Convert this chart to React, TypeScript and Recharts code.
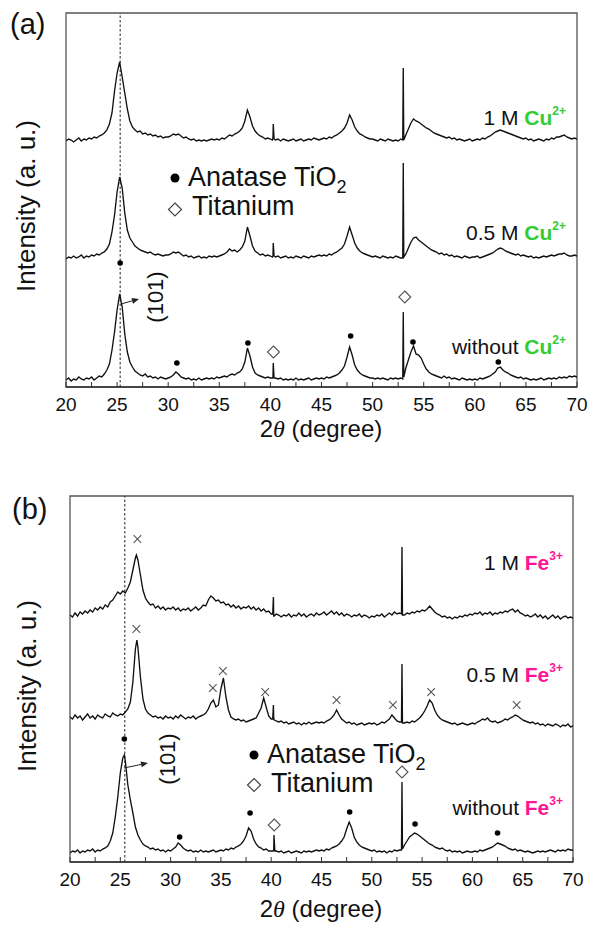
import React from 'react';
import { ComposedChart, Line, XAxis, YAxis, ReferenceLine, ReferenceArea } from 'recharts';

const GRID_START = 20;
const GRID_STEP = 0.25;
const TICKS = [20, 22.5, 25, 27.5, 30, 32.5, 35, 37.5, 40, 42.5, 45, 47.5, 50, 52.5, 55, 57.5, 60, 62.5, 65, 67.5, 70];
const TICK_LABELS = [20, 25, 30, 35, 40, 45, 50, 55, 60, 65, 70];

// (a) Cu series: intensity above each pattern's own background, sampled every 0.25 deg from 20 to 70
const cuNone = [
  2,4,1,3,2,5,3,2,4,3,5,2,4,6,5,8,12,18,32,50,
  72,88,75,48,30,20,15,11,9,7,6,8,5,6,4,5,3,5,4,3,
  4,5,7,10,8,5,4,3,4,2,3,2,4,2,3,4,3,4,3,5,
  4,5,6,5,7,8,7,9,10,13,20,34,26,15,9,7,6,5,4,5,
  4,5,4,3,4,2,3,2,3,2,4,2,3,2,3,4,2,3,4,3,
  4,3,5,4,5,6,7,9,12,16,25,35,27,17,12,9,7,6,5,4,
  4,3,4,3,4,3,2,4,3,4,3,4,70,14,22,30,36,28,27,24,
  18,13,10,8,7,6,5,4,6,4,5,3,4,3,2,4,3,2,3,2,
  3,2,4,3,4,5,6,8,10,14,15,12,10,9,7,6,5,4,5,3,
  4,3,2,3,2,3,4,2,3,4,3,4,3,5,4,5,4,6,5,6,
  5,
];
const cuHalf = [
  1,3,2,4,2,3,5,2,4,3,5,4,6,5,7,8,11,16,28,45,
  68,83,72,47,30,22,18,14,12,10,9,8,7,8,6,5,6,5,4,5,
  5,6,8,7,8,6,4,5,3,4,2,3,4,2,3,2,4,3,4,3,
  4,5,6,8,11,9,10,8,10,13,19,33,24,14,9,7,5,6,4,5,
  4,4,3,4,2,3,4,2,3,2,4,3,2,4,3,2,4,3,4,5,
  4,5,4,6,5,7,8,10,12,16,24,33,25,17,12,9,7,6,5,4,
  3,4,3,2,4,3,2,3,2,4,3,2,97,6,12,18,22,23,20,18,
  16,14,12,10,9,8,6,7,5,6,4,5,3,4,3,2,4,3,2,3,
  3,4,2,3,4,5,6,7,9,11,12,11,9,8,7,6,5,6,4,5,
  4,3,4,2,3,2,3,4,3,4,5,4,5,6,6,7,5,4,4,5,
  4,
];
const cuOne = [
  2,4,3,1,3,5,2,4,3,5,4,6,5,7,8,10,13,19,30,52,
  70,81,66,50,34,22,16,13,11,12,9,10,8,9,7,8,6,7,5,6,
  6,7,9,8,9,7,5,6,4,3,4,2,3,2,3,2,3,4,3,4,
  3,5,4,6,8,7,9,10,12,15,22,33,26,17,12,9,7,6,4,5,
  4,5,3,4,2,4,3,2,3,4,2,3,4,2,3,4,3,5,4,3,
  4,5,4,6,5,7,8,10,12,15,20,28,23,16,12,9,8,6,5,4,
  4,3,2,4,3,2,4,3,2,3,2,4,75,8,14,20,24,22,21,19,
  17,15,14,12,10,9,8,7,6,5,6,4,5,3,4,3,2,3,4,2,
  3,4,3,5,4,6,7,9,11,12,13,12,11,10,9,8,7,6,5,4,
  5,3,4,2,3,4,3,2,4,3,5,4,6,6,7,8,6,5,4,5,
  4,
];
// sharp titanium lines and peak tops between grid points: [2theta, intensity]
const cuNoneExtra = [[40.2, 4], [40.28, 19], [40.36, 4], [52.95, 3], [53.05, 5]];
const cuHalfExtra = [[40.2, 3], [40.28, 17], [40.36, 4], [52.95, 2], [53.05, 3]];
const cuOneExtra = [[40.2, 3], [40.28, 19], [40.36, 4], [52.95, 3], [53.05, 3]];
const cuOffsets = { none: 5, half: 127, one: 244 };

// (b) Fe series
const feNone = [
  2,4,3,5,2,4,3,5,4,6,3,5,4,6,7,9,14,22,38,58,
  82,97,94,70,55,42,28,20,15,11,9,8,6,7,5,6,4,5,3,5,
  4,6,8,12,10,7,5,4,5,3,4,3,5,3,4,3,4,5,3,4,
  5,4,6,5,7,6,8,9,11,14,19,27,24,16,11,8,7,5,6,4,
  4,5,4,3,4,2,3,4,2,3,4,3,2,4,3,4,3,4,5,4,
  5,4,6,5,7,8,9,11,14,18,26,33,27,18,13,10,8,7,6,5,
  4,5,3,4,3,4,2,4,3,5,4,5,73,10,14,18,20,22,21,19,
  17,15,13,11,10,8,7,6,7,5,4,5,3,4,3,4,2,3,4,3,
  3,4,3,5,4,5,6,7,8,10,12,11,10,9,7,6,5,6,4,5,
  4,3,4,3,2,3,4,3,4,3,4,5,4,3,5,4,5,4,6,5,
  5,
];
const feHalf = [
  10,8,12,9,11,7,10,13,9,11,8,12,10,9,13,11,10,14,12,11,
  13,12,15,18,25,45,78,80,50,28,18,14,12,10,11,9,10,8,11,9,
  10,8,11,9,12,10,8,10,9,11,8,10,11,12,14,18,24,27,20,22,
  38,49,30,17,10,8,7,8,6,7,5,6,7,8,9,14,19,29,20,11,
  8,9,6,5,6,4,5,3,4,5,3,4,2,4,3,5,3,4,5,4,
  5,4,6,7,9,12,17,12,8,6,4,5,3,4,2,3,4,2,3,4,
  3,4,2,3,5,4,6,8,12,9,6,5,63,4,5,4,6,5,7,9,
  12,16,21,27,24,17,12,9,7,6,5,4,3,4,2,3,4,3,2,3,
  4,3,5,6,8,7,9,6,5,6,4,5,6,8,7,9,10,12,11,9,
  7,6,5,4,5,3,4,2,3,1,3,2,1,3,2,0,2,1,3,0,
  1,
];
const feOne = [
  5,3,7,4,8,6,9,7,10,8,12,10,13,11,15,13,18,20,24,28,
  26,29,27,32,38,50,62,60,45,30,22,18,15,16,12,14,11,13,10,12,
  11,13,10,12,9,11,10,12,9,11,13,10,12,15,14,20,24,22,19,20,
  17,18,15,16,13,15,12,14,11,13,12,14,11,13,10,12,9,11,8,9,
  6,4,6,5,3,5,4,6,3,5,4,7,4,6,3,5,6,4,7,5,
  6,8,5,7,9,6,8,5,7,4,6,5,3,5,4,6,3,5,4,2,
  4,3,5,4,6,3,5,7,5,8,6,7,73,5,7,6,8,7,9,8,
  10,9,11,14,11,8,6,5,3,4,2,3,1,3,2,4,3,5,4,6,
  5,7,6,8,5,7,6,8,5,7,6,8,7,9,8,10,11,8,10,7,
  6,4,5,3,4,6,3,5,2,4,1,3,5,2,4,1,3,4,2,3,
  2,
];
const feNoneExtra = [[25.4, 100], [40.2, 4], [40.28, 20], [40.36, 4], [52.95, 5], [53.05, 6]];
const feHalfExtra = [[26.65, 87], [40.15, 8], [40.22, 22], [40.3, 7], [52.95, 5], [53.05, 4]];
const feOneExtra = [[26.6, 65], [40.15, 6], [40.22, 23], [40.3, 4], [52.95, 6], [53.05, 5]];
const feOffsets = { none: 7, half: 135, one: 242 };

// phase markers: [2theta, panel intensity]
const cuAnatase = [[25.3, 124], [30.85, 24], [37.8, 44], [47.85, 51], [53.95, 45], [62.3, 25]];
const cuTitanium = [[40.3, 35], [53.15, 90]];
const feAnatase = [[25.4, 123], [30.9, 25], [37.9, 49], [47.8, 50], [54.3, 38], [62.5, 29]];
const feTitanium = [[40.3, 37], [53.0, 90]];
const feOther = [[26.7, 323], [26.6, 233], [34.2, 174], [35.2, 191], [39.4, 170], [46.5, 162], [52.1, 157], [55.9, 170], [64.4, 157]];

const PANEL_A_MAX = 374;
const PANEL_B_MAX = 366;
const REF_A = 25.3;
const REF_B = 25.45;

const FONT = '"Liberation Sans", Arial, Helvetica, sans-serif';
const GREEN = '#33cc33';
const MAGENTA = '#ff1493';

function build(values: number[], extras: number[][], offset: number) {
  const pts = values.map((v, i) => ({ x: GRID_START + GRID_STEP * i, y: v + offset }));
  extras.forEach(([x, v]) => pts.push({ x, y: v + offset }));
  pts.sort((a, b) => a.x - b.x);
  return pts;
}
const toPts = (arr: number[][]) => arr.map(([x, y]) => ({ x, y }));

const Tick = (props: any) => {
  const { x, y, payload } = props;
  const v = payload.value;
  const major = TICK_LABELS.includes(v);
  return (
    <g>
      <line x1={x} x2={x} y1={y} y2={y - 5} stroke="#333" strokeWidth={1} />
      {major && (
        <text x={x} y={y + 24} textAnchor="middle" fontSize={19} fontFamily={FONT} fill="#111">
          {v}
        </text>
      )}
    </g>
  );
};

const dotShape = (p: any) => <circle key={`c${p.index}`} cx={p.cx} cy={p.cy} r={2.8} fill="#000" />;
const diamondShape = (p: any) => {
  const s = 6;
  return (
    <polygon
      key={`d${p.index}`}
      points={`${p.cx},${p.cy - s} ${p.cx + s},${p.cy} ${p.cx},${p.cy + s} ${p.cx - s},${p.cy}`}
      fill="#fff"
      stroke="#555"
      strokeWidth={1.1}
    />
  );
};
const crossShape = (p: any) => {
  const s = 3.8;
  return (
    <g key={`x${p.index}`} stroke="#555" strokeWidth={1.1}>
      <line x1={p.cx - s} y1={p.cy - s} x2={p.cx + s} y2={p.cy + s} />
      <line x1={p.cx - s} y1={p.cy + s} x2={p.cx + s} y2={p.cy - s} />
    </g>
  );
};

type PanelProps = {
  width: number;
  height: number;
  margin: { top: number; right: number; bottom: number; left: number };
  series: { x: number; y: number }[][];
  markers: { data: { x: number; y: number }[]; shape: (p: any) => any }[];
  yMax: number;
  refX: number;
};

const Panel = ({ width, height, margin, series, markers, yMax, refX }: PanelProps) => (
  <ComposedChart width={width} height={height} margin={margin}>
    <XAxis
      dataKey="x"
      type="number"
      domain={[20, 70]}
      ticks={TICKS}
      interval={0}
      allowDataOverflow
      tickLine={false}
      tickSize={0}
      tickMargin={0}
      height={30}
      axisLine={{ stroke: '#333', strokeWidth: 1.5 }}
      tick={<Tick />}
    />
    <YAxis type="number" domain={[0, yMax]} hide allowDataOverflow />
    <ReferenceArea x1={20} x2={70} y1={0} y2={yMax} fill="none" stroke="#555" strokeWidth={1.3} />
    <ReferenceLine x={refX} stroke="#222" strokeDasharray="2.5 2" strokeWidth={1} />
    {series.map((d, i) => (
      <Line
        key={`s${i}`}
        data={d}
        dataKey="y"
        type="linear"
        stroke="#111"
        strokeWidth={1.35}
        dot={false}
        activeDot={false}
        isAnimationActive={false}
      />
    ))}
    {markers.map((m, i) => (
      <Line
        key={`m${i}`}
        data={m.data}
        dataKey="y"
        stroke="none"
        dot={m.shape}
        activeDot={false}
        isAnimationActive={false}
      />
    ))}
  </ComposedChart>
);

const Arrow = ({ x1, y1, x2, y2 }: { x1: number; y1: number; x2: number; y2: number }) => {
  const a = Math.atan2(y2 - y1, x2 - x1);
  const L = 7;
  const W = 3;
  const bx = x2 - L * Math.cos(a);
  const by = y2 - L * Math.sin(a);
  const px = -Math.sin(a) * W;
  const py = Math.cos(a) * W;
  return (
    <g>
      <line x1={x1} y1={y1} x2={bx} y2={by} stroke="#222" strokeWidth={1} />
      <polygon points={`${x2},${y2} ${bx + px},${by + py} ${bx - px},${by - py}`} fill="#222" />
    </g>
  );
};

export default function App() {
  const seriesA = [
    build(cuNone, cuNoneExtra, cuOffsets.none),
    build(cuHalf, cuHalfExtra, cuOffsets.half),
    build(cuOne, cuOneExtra, cuOffsets.one),
  ];
  const seriesB = [
    build(feNone, feNoneExtra, feOffsets.none),
    build(feHalf, feHalfExtra, feOffsets.half),
    build(feOne, feOneExtra, feOffsets.one),
  ];
  const markersA = [
    { data: toPts(cuAnatase), shape: dotShape },
    { data: toPts(cuTitanium), shape: diamondShape },
  ];
  const markersB = [
    { data: toPts(feAnatase), shape: dotShape },
    { data: toPts(feTitanium), shape: diamondShape },
    { data: toPts(feOther), shape: crossShape },
  ];

  const txt = { fontFamily: FONT, fill: '#111' } as const;

  return (
    <div style={{ position: 'absolute', left: 0, top: 0, width: 589, height: 926, background: '#fff' }}>
      <div style={{ position: 'absolute', left: 0, top: 0 }}>
        <Panel
          width={589}
          height={460}
          margin={{ top: 13, right: 12, bottom: 43, left: 66 }}
          series={seriesA}
          markers={markersA}
          yMax={PANEL_A_MAX}
          refX={REF_A}
        />
      </div>
      <div style={{ position: 'absolute', left: 0, top: 460 }}>
        <Panel
          width={589}
          height={466}
          margin={{ top: 36, right: 16, bottom: 34, left: 70 }}
          series={seriesB}
          markers={markersB}
          yMax={PANEL_B_MAX}
          refX={REF_B}
        />
      </div>
      <svg width={589} height={926} style={{ position: 'absolute', left: 0, top: 0, pointerEvents: 'none' }}>
        {/* panel (a) */}
        <text x={10} y={34} fontSize={29} {...txt}>(a)</text>
        <text x={0} y={0} fontSize={26} textAnchor="middle" transform="translate(35,206) rotate(-90)" {...txt}>
          Intensity (a. u.)
        </text>
        <text x={321} y={437} fontSize={24} textAnchor="middle" {...txt}>
          2<tspan fontStyle="italic" fontFamily='"Liberation Serif", "Times New Roman", serif'>θ</tspan> (degree)
        </text>
        <circle cx={175} cy={178} r={4.5} fill="#000" />
        <text x={188} y={186} fontSize={27} {...txt}>
          Anatase TiO<tspan fontSize={18} dy={7}>2</tspan>
        </text>
        <polygon points="175,203 181.5,209.5 175,216 168.5,209.5" fill="#fff" stroke="#444" strokeWidth={1.2} />
        <text x={192} y={215} fontSize={27} {...txt}>Titanium</text>
        <text x={0} y={0} fontSize={22} textAnchor="middle" transform="translate(163,297) rotate(-90)" {...txt}>(101)</text>
        <Arrow x1={121} y1={304} x2={139} y2={299} />
        <text x={566} y={125} fontSize={21} textAnchor="end" {...txt}>
          1 M <tspan fill={GREEN} fontWeight="bold">Cu</tspan>
          <tspan fill={GREEN} fontWeight="bold" fontSize={12} dy={-10}>2+</tspan>
        </text>
        <text x={566} y={240} fontSize={21} textAnchor="end" {...txt}>
          0.5 M <tspan fill={GREEN} fontWeight="bold">Cu</tspan>
          <tspan fill={GREEN} fontWeight="bold" fontSize={12} dy={-10}>2+</tspan>
        </text>
        <text x={566} y={354} fontSize={21} textAnchor="end" {...txt}>
          without <tspan fill={GREEN} fontWeight="bold">Cu</tspan>
          <tspan fill={GREEN} fontWeight="bold" fontSize={12} dy={-10}>2+</tspan>
        </text>

        {/* panel (b) */}
        <text x={12} y={519} fontSize={29} {...txt}>(b)</text>
        <text x={0} y={0} fontSize={26} textAnchor="middle" transform="translate(36,686) rotate(-90)" {...txt}>
          Intensity (a. u.)
        </text>
        <text x={321} y={917} fontSize={24} textAnchor="middle" {...txt}>
          2<tspan fontStyle="italic" fontFamily='"Liberation Serif", "Times New Roman", serif'>θ</tspan> (degree)
        </text>
        <circle cx={254} cy={755} r={4.5} fill="#000" />
        <text x={267} y={763} fontSize={27} {...txt}>
          Anatase TiO<tspan fontSize={18} dy={7}>2</tspan>
        </text>
        <polygon points="254,778.5 260.5,785 254,791.5 247.5,785" fill="#fff" stroke="#444" strokeWidth={1.2} />
        <text x={271} y={792} fontSize={27} {...txt}>Titanium</text>
        <text x={0} y={0} fontSize={22} textAnchor="middle" transform="translate(175,759) rotate(-90)" {...txt}>(101)</text>
        <Arrow x1={124} y1={768} x2={148} y2={763} />
        <text x={563} y={570} fontSize={21} textAnchor="end" {...txt}>
          1 M <tspan fill={MAGENTA} fontWeight="bold">Fe</tspan>
          <tspan fill={MAGENTA} fontWeight="bold" fontSize={12} dy={-10}>3+</tspan>
        </text>
        <text x={563} y={682} fontSize={21} textAnchor="end" {...txt}>
          0.5 M <tspan fill={MAGENTA} fontWeight="bold">Fe</tspan>
          <tspan fill={MAGENTA} fontWeight="bold" fontSize={12} dy={-10}>3+</tspan>
        </text>
        <text x={563} y={815} fontSize={21} textAnchor="end" {...txt}>
          without <tspan fill={MAGENTA} fontWeight="bold">Fe</tspan>
          <tspan fill={MAGENTA} fontWeight="bold" fontSize={12} dy={-10}>3+</tspan>
        </text>
      </svg>
    </div>
  );
}
